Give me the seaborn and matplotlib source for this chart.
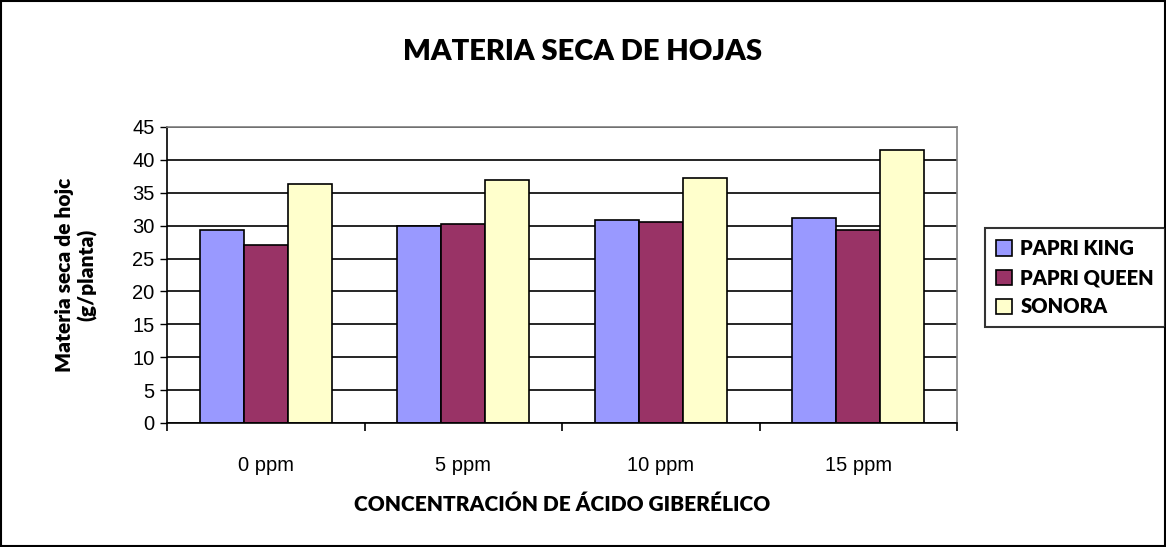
import matplotlib
matplotlib.use("Agg")
import matplotlib.pyplot as plt
import seaborn as sns
import pandas as pd
from matplotlib.patches import Rectangle

categories = ["0 ppm", "5 ppm", "10 ppm", "15 ppm"]
series_names = ["PAPRI KING", "PAPRI QUEEN", "SONORA"]
papri_king = [29.4, 30.0, 30.9, 31.2]
papri_queen = [27.0, 30.3, 30.6, 29.4]
sonora = [36.4, 37.0, 37.3, 41.5]
colors = ["#9999FF", "#993366", "#FFFFCC"]

rows = []
for name, vals in zip(series_names, [papri_king, papri_queen, sonora]):
    for c, v in zip(categories, vals):
        rows.append({"conc": c, "variety": name, "value": v})
df = pd.DataFrame(rows)

sns.set_theme(style="white")
plt.rcParams["font.family"] = ["Liberation Sans", "DejaVu Sans"]
plt.rcParams["text.color"] = "black"
plt.rcParams["axes.labelcolor"] = "black"

fig = plt.figure(figsize=(11.66, 5.47), dpi=100)
ax = fig.add_axes([167/1166, 1 - 423/547, 790/1166, 296/547])

sns.barplot(data=df, x="conc", y="value", hue="variety", order=categories,
            hue_order=series_names, palette=colors, width=0.668,
            edgecolor="black", linewidth=1.2, ax=ax, legend=False, saturation=1)

ax.set_ylim(0, 45)
ax.set_xlim(-0.5, 3.5)
ax.set_yticks(range(0, 46, 5))
ax.yaxis.grid(True, color="black", linewidth=1.2)
ax.set_axisbelow(True)
for s in ["top", "right"]:
    ax.spines[s].set_color("#808080")
    ax.spines[s].set_linewidth(1.2)
for s in ["left", "bottom"]:
    ax.spines[s].set_color("black")
    ax.spines[s].set_linewidth(1.2)

ax.tick_params(axis="y", which="major", direction="out", length=5, width=1, colors="black",
               labelsize=14.5, left=True, pad=4)
ax.tick_params(axis="x", which="major", length=0, labelsize=14.5, pad=24, colors="black")
ax.set_xticks([-0.5, 0.5, 1.5, 2.5, 3.5], minor=True)
ax.tick_params(axis="x", which="minor", direction="out", length=6, width=1.2, bottom=True, colors="black")

bold = dict(fontweight="heavy", family=["Lato", "DejaVu Sans"], color="black")
ax.set_xlabel("CONCENTRACIÓN DE ÁCIDO GIBERÉLICO", fontsize=15, labelpad=14, **bold)
ax.set_ylabel("Materia seca de hojc\n(g/planta)", fontsize=15, labelpad=25, **bold)
fig.text(0.5, 1 - 52/547, "MATERIA SECA DE HOJAS", ha="center", va="center", fontsize=21, **bold)

handles = [Rectangle((0, 0), 1, 1, facecolor=c, edgecolor="black", linewidth=1.2) for c in colors]
leg = fig.legend(handles, series_names, loc="upper left", bbox_to_anchor=(975/1166, 1 - 218/547),
                 frameon=True, fancybox=False, edgecolor="black", handlelength=0.8, handleheight=0.8,
                 handletextpad=0.4, labelspacing=0.5, borderpad=0.55,
                 prop=dict(size=14.5, weight="heavy", family=["Lato", "DejaVu Sans"]))
leg.get_frame().set_linewidth(1.5)
for t in leg.get_texts():
    t.set_color("black")

fig.patches.append(Rectangle((0.001, 0.002), 0.998, 0.996, transform=fig.transFigure,
                             fill=False, edgecolor="black", linewidth=1.5))

fig.savefig("out.png", dpi=100)
